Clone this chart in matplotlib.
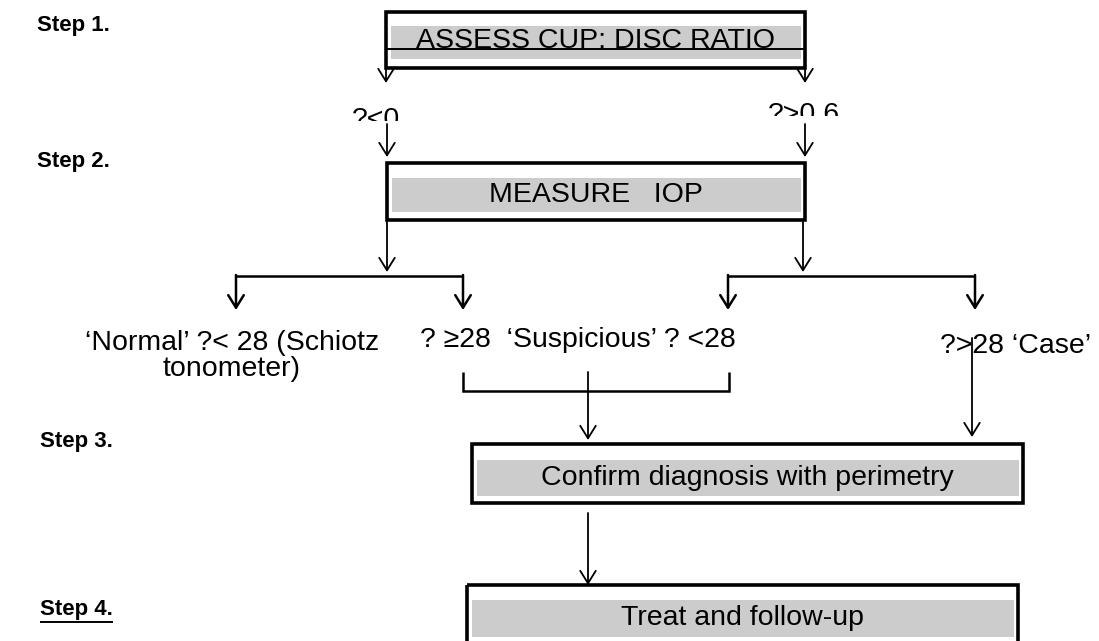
import matplotlib
matplotlib.use("Agg")
import matplotlib.pyplot as plt
from matplotlib.patches import Rectangle, FancyArrowPatch

plt.rcParams['font.family'] = ['Liberation Sans', 'DejaVu Sans']

# texts of the chart
step_labels = ['Step 1.', 'Step 2.', 'Step 3.', 'Step 4.']
box_texts = ['ASSESS CUP: DISC RATIO', 'MEASURE   IOP',
             'Confirm diagnosis with perimetry', 'Treat and follow-up']
ratio_labels = ['?<0', '?>0.6']
iop_labels = ['\u2018Normal\u2019 ?< 28 (Schiotz\ntonometer)',
              '? \u226528  \u2018Suspicious\u2019 ? <28',
              '?>28 \u2018Case\u2019']

W, H = 1099, 641
fig = plt.figure(figsize=(W / 100, H / 100), dpi=100)
ax = fig.add_axes([0, 0, 1, 1])
ax.set_xlim(0, W)
ax.set_ylim(H, 0)
ax.axis('off')

FS = 20.5


def box(x0, x1, y0, y1, gy0, gy1, text, ty):
    ax.add_patch(Rectangle((x0 + 5, gy0), x1 - x0 - 9, gy1 - gy0,
                           facecolor='#cccccc', edgecolor='none'))
    ax.add_patch(Rectangle((x0, y0), x1 - x0, y1 - y0, fill=False,
                           edgecolor='black', lw=2.6))
    ax.text((x0 + x1) / 2, ty, text, ha='center', va='center', fontsize=FS)


def arrow(x, y0, y1, lw=1.3):
    ax.add_patch(FancyArrowPatch((x, y0), (x, y1),
                                 arrowstyle='->,head_length=0.45,head_width=0.28',
                                 mutation_scale=20, lw=lw, color='black',
                                 shrinkA=0, shrinkB=0))


def line(xs, ys, lw=1.8):
    ax.plot(xs, ys, color='black', lw=lw, solid_capstyle='butt',
            solid_joinstyle='miter')


# step labels
step_y = [25, 162, 442, 609]
step_x = [37, 37, 40, 40]
step_txt = []
for lab, x, y in zip(step_labels, step_x, step_y):
    step_txt.append(ax.text(x, y, lab, fontsize=16, fontweight='bold',
                            va='center'))

# step 1
box(386, 805, 12, 68, 26, 59, box_texts[0], 41)
line([386, 805], [49, 49], lw=1.4)
arrow(386, 66, 83)
arrow(805, 66, 83)

# the two ratio labels are cut off at the bottom, as in the original
clip_l = Rectangle((0, 0), W, 121, transform=ax.transData)
clip_r = Rectangle((0, 0), W, 116, transform=ax.transData)
t1 = ax.text(352, 127, ratio_labels[0], fontsize=FS, va='baseline',
             clip_on=True)
t1.set_clip_path(clip_l)
t2 = ax.text(768, 122, ratio_labels[1], fontsize=FS, va='baseline',
             clip_on=True)
t2.set_clip_path(clip_r)
arrow(387, 124, 157)
arrow(805, 124, 157)

# step 2
box(387, 805, 163, 220, 178, 212, box_texts[1], 195)
arrow(387, 220, 272)
arrow(803, 220, 272)
line([236, 463], [276, 276])
line([728, 975], [276, 276])
for x in [236, 463, 728, 975]:
    arrow(x, 275, 310, lw=1.8)

ax.text(232, 330, iop_labels[0], fontsize=FS, ha='center', va='top',
        linespacing=1.0)
ax.text(420, 340, iop_labels[1], fontsize=FS, va='center')
ax.text(940, 346, iop_labels[2], fontsize=FS, va='center')

# merge of the two suspicious branches
line([463, 463, 729, 729], [372, 391, 391, 372])
arrow(588, 372, 440)
arrow(972, 338, 437)

# step 3
box(472, 1023, 444, 503, 460, 496, box_texts[2], 478)
arrow(588, 513, 585)

# step 4
box(467, 1018, 585, 648, 600, 637, box_texts[3], 618)

# underline under "Step 4."
fig.canvas.draw()
bb = step_txt[3].get_window_extent().transformed(ax.transData.inverted())
line([bb.x0, bb.x1], [bb.y0 + 2, bb.y0 + 2], lw=1.4)

fig.savefig('out.png', dpi=100)
